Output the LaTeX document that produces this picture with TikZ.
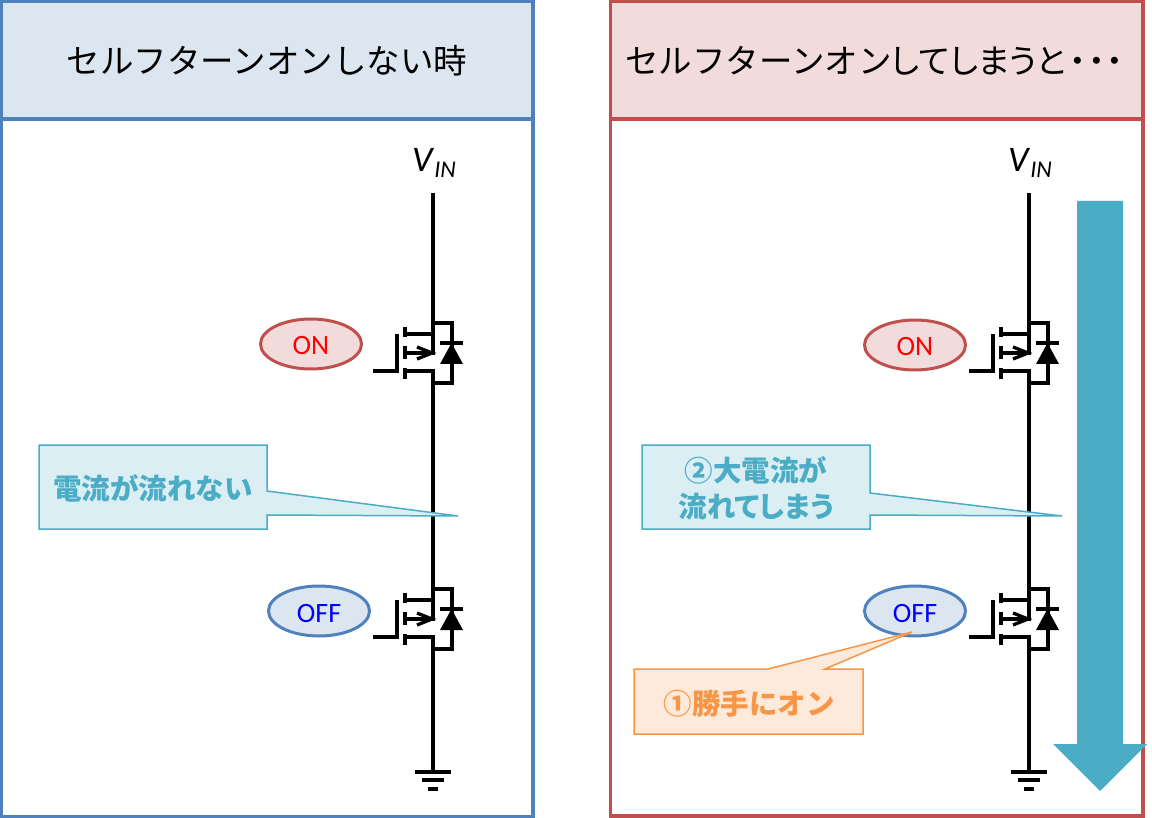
\documentclass[tikz,border=0pt]{standalone}
\usepackage{fontspec}
\usetikzlibrary{shapes.geometric}
\setmainfont{Noto Sans CJK JP}
\newfontfamily\latinfont{Carlito}
\newcommand{\tight}{\addfontfeature{RawFeature=+palt}}
\definecolor{bluedark}{HTML}{4F81BD}
\definecolor{bluelight}{HTML}{DCE6F1}
\definecolor{reddark}{HTML}{C0504D}
\definecolor{redlight}{HTML}{F2DCDB}
\definecolor{tealdark}{HTML}{4BACC6}
\definecolor{teallight}{HTML}{DAEEF3}
\definecolor{orangedark}{HTML}{F79646}
\definecolor{orangelight}{HTML}{FDEADA}
\tikzset{
	wire/.style={line width=3.3pt},
	panel/.style={line width=3.5pt},
	title/.style={font=\fontsize{33.5}{36}\selectfont,inner sep=0pt},
	vin/.style={font=\latinfont\fontsize{36}{38}\selectfont,inner sep=0pt},
	state/.style={draw=#1,line width=3pt,ellipse,minimum width=101pt,minimum height=50pt,inner sep=0pt,text height=22pt,text depth=0pt,font=\latinfont\fontsize{28}{30}\selectfont},
	tail/.style={line width=1.5pt},
	saying/.style={font=\bfseries\fontsize{28.5}{36}\selectfont,inner sep=0pt,align=center}
}
\tikzset{
	mosfet/.pic={
		\coordinate (-d) at (0,-30);
		\coordinate (-s) at (0,30);
		%channel and gate
		\draw[wire] (-28,-26) -- (-28,-16) (-28,-7) -- (-28,6) (-28,15) -- (-28,26);
		\draw[wire] (-28,-19) -- (0,-19) -- (0,0) -- (-28,0);
		\draw[wire] (-28,18) -- (0,18) -- (0,30);
		\draw[wire] (0,-30) -- (0,-19);
		\draw[wire] (-16,-6) -- (-1,0) -- (-16,6);
		\draw[wire] (-60,18) -- (-36,18) -- (-36,-19);
		%diode
		\draw[wire] (0,-30) -- (19,-30) -- (19,30) -- (0,30);
		\fill (7,11) -- (30,11) -- (18.5,-10) -- cycle;
		\draw[wire] (7,-10) -- (30,-10);
	}
}
\tikzset{
	earth/.pic={
		\coordinate (-t) at (0,0);
		\draw[wire] (-18,0) -- (18,0);
		\draw[wire] (-11,8) -- (11,8);
		\draw[wire] (-5,17) -- (5,17);
	}
}

\begin{document}
\begin{tikzpicture}[x=1pt,y=-1pt]
\useasboundingbox (0,0) rectangle (1152,818);

%panels
\draw[panel,draw=bluedark] (1.5,1.5) rectangle (533,816.5);
\draw[panel,draw=bluedark,fill=bluelight] (1.5,1.5) rectangle (533,119);
\draw[panel,draw=reddark] (610.5,1.5) rectangle (1143,816);
\draw[panel,draw=reddark,fill=redlight] (610.5,1.5) rectangle (1143,119);
\node[title] (titleA) at (267,61) {セルフターンオンしない時};
\node[title,anchor=west] (titleB) at (625,61) {セルフターンオン{\tight してしまうと}\kern3.5pt{\bfseries ･\kern1.8pt･\kern1.8pt･}};

%big current
\fill[tealdark] (1077,201) -- (1123,201) -- (1123,744) -- (1147,744) -- (1100,791) -- (1053,744) -- (1077,744) -- cycle;

%left circuit
\node[vin] (vinA) at (434,163) {\textit{V}\raisebox{-6pt}{\fontsize{24}{26}\selectfont\textit{IN}}};
\coordinate (railA) at (433,193);
\pic (fetA) at (433,353) {mosfet};
\pic (fetB) at (433,619) {mosfet};
\pic (gndA) at (433,772) {earth};
\draw[wire] (railA) -- (fetA-d);
\draw[wire] (fetA-s) -- (fetB-d);
\draw[wire] (fetB-s) -- (gndA-t);

%right circuit
\node[vin] (vinB) at (1030,163) {\textit{V}\raisebox{-6pt}{\fontsize{24}{26}\selectfont\textit{IN}}};
\coordinate (railB) at (1029,193);
\pic (fetC) at (1029,353) {mosfet};
\pic (fetD) at (1029,619) {mosfet};
\pic (gndB) at (1029,772) {earth};
\draw[wire] (railB) -- (fetC-d);
\draw[wire] (fetC-s) -- (fetD-d);
\draw[wire] (fetD-s) -- (gndB-t);

%states
\node[state=reddark,fill=redlight,text=red] (onA) at (311,344) {ON};
\node[state=bluedark,fill=bluelight,text=blue] (offA) at (319,611) {OFF};
\node[state=reddark,fill=redlight,text=red] (onB) at (915,345) {ON};
\node[state=bluedark,fill=bluelight,text=blue] (offB) at (915,611) {OFF};

%callouts
\draw[tail,draw=tealdark,fill=teallight] (39,445) -- (267,445) -- (267,491) -- (458,516) -- (267,515) -- (267,529) -- (39,529) -- cycle;
\node[saying,text=tealdark] (sayA) at (153,488) {電流が流れない};
\draw[tail,draw=tealdark,fill=teallight] (642,445) -- (870,445) -- (870,493) -- (1062,516) -- (870,515) -- (870,529) -- (642,529) -- cycle;
\node[saying,text=tealdark] (sayB) at (756,488) {②大電流が\\{\tight 流れてしまう}};
\draw[tail,draw=orangedark,fill=orangelight] (634,669) -- (768,669) -- (912,632) -- (825,669) -- (863,669) -- (863,734) -- (634,734) -- cycle;
\node[saying,text=orangedark] (sayC) at (749,704) {①勝手にオン};
\end{tikzpicture}
\end{document}
